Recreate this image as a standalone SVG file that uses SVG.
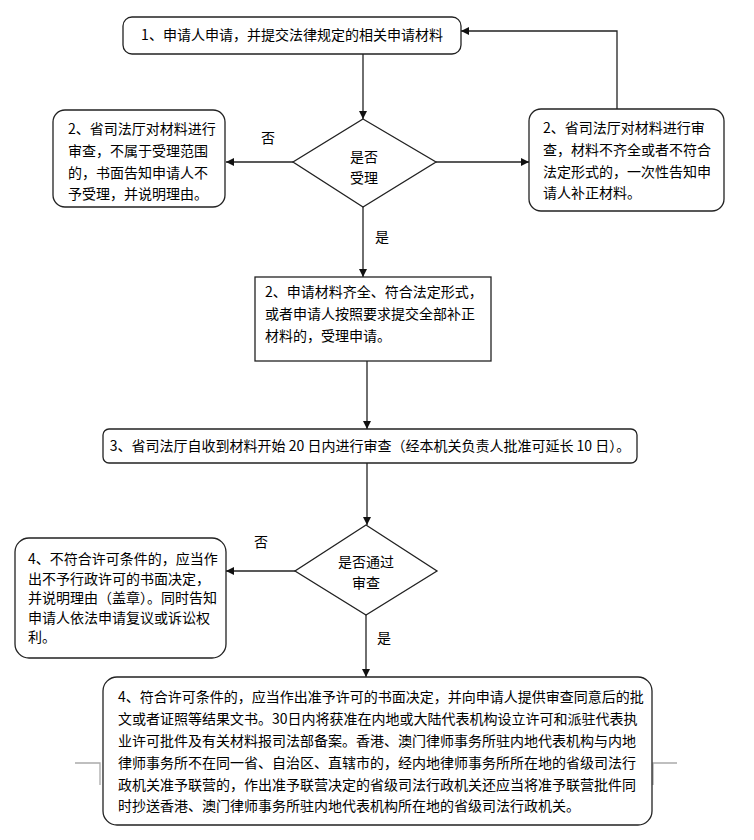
<svg xmlns="http://www.w3.org/2000/svg" width="754" height="840" viewBox="0 0 754 840">
<defs>
<style>
.box{fill:#fff;stroke:#222;stroke-width:1.3}
.t{font-family:"Noto Sans CJK SC","Noto Sans",sans-serif;font-size:14px;fill:#000}
.c{text-anchor:middle}
.ln{fill:none;stroke:#222;stroke-width:1.3}
.gr{fill:none;stroke:#aaa;stroke-width:1.3}
</style>
<marker id="ah" viewBox="0 0 10 10" refX="10" refY="5" markerWidth="8" markerHeight="8" markerUnits="userSpaceOnUse" orient="auto">
<path d="M0,0 L10,5 L0,10 z" fill="#111"/>
</marker>
</defs>
<rect width="754" height="840" fill="#fff"/>
<g id="connectors">
<path class="ln" d="M363,54 V119" marker-end="url(#ah)"/>
<path class="ln" d="M293,162 H226" marker-end="url(#ah)"/>
<path class="ln" d="M436,162 H529" marker-end="url(#ah)"/>
<path class="ln" d="M617,109 V31 H461" marker-end="url(#ah)"/>
<path class="ln" d="M363,207 V277" marker-end="url(#ah)"/>
<path class="ln" d="M367,361 V429" marker-end="url(#ah)"/>
<path class="ln" d="M367,463 V525" marker-end="url(#ah)"/>
<path class="ln" d="M295,571 H226" marker-end="url(#ah)"/>
<path class="ln" d="M366,615 V677" marker-end="url(#ah)"/>
<text class="t" x="261" y="143" font-size="16">否</text>
<text class="t" x="375" y="242" font-size="16">是</text>
<text class="t" x="254" y="547" font-size="16">否</text>
<text class="t" x="377" y="643" font-size="16">是</text>
</g>
<g id="n1">
<rect class="box" x="123" y="17" width="338" height="37" rx="9"/>
<text class="t c" x="292" y="40">1、申请人申请，并提交法律规定的相关申请材料</text>
</g>
<g id="d1">
<polygon class="box" points="363,119 436,162 363,207 293,162"/>
<text class="t c" x="364" y="162">是否</text>
<text class="t c" x="364" y="183">受理</text>
</g>
<g id="n2l">
<rect class="box" x="53" y="110" width="172" height="97" rx="12"/>
<text class="t" x="68" y="134">2、省司法厅对材料进行</text>
<text class="t" x="68" y="156">审查，不属于受理范围</text>
<text class="t" x="68" y="178">的，书面告知申请人不</text>
<text class="t" x="68" y="199">予受理，并说明理由。</text>
</g>
<g id="n2r">
<rect class="box" x="529" y="109" width="195" height="102" rx="12"/>
<text class="t" x="543" y="133">2、省司法厅对材料进行审</text>
<text class="t" x="543" y="155">查，材料不齐全或者不符合</text>
<text class="t" x="543" y="177">法定形式的，一次性告知申</text>
<text class="t" x="543" y="198">请人补正材料。</text>
</g>
<g id="n2">
<rect class="box" x="255" y="277" width="236" height="84"/>
<text class="t" x="265" y="297">2、申请材料齐全、符合法定形式，</text>
<text class="t" x="265" y="319">或者申请人按照要求提交全部补正</text>
<text class="t" x="265" y="341">材料的，受理申请。</text>
</g>
<g id="n3">
<rect class="box" x="103" y="429" width="534" height="34" rx="6"/>
<text class="t c" x="370" y="451">3、省司法厅自收到材料开始 20 日内进行审查（经本机关负责人批准可延长 10 日）。</text>
</g>
<g id="d2">
<polygon class="box" points="366,525 437,571 366,615 295,571"/>
<text class="t c" x="366" y="567">是否通过</text>
<text class="t c" x="366" y="588">审查</text>
</g>
<g id="n4l">
<rect class="box" x="15" y="538" width="211" height="120" rx="14"/>
<text class="t" x="28" y="564">4、不符合许可条件的，应当作</text>
<text class="t" x="28" y="584">出不予行政许可的书面决定，</text>
<text class="t" x="28" y="603">并说明理由（盖章）。同时告知</text>
<text class="t" x="28" y="623">申请人依法申请复议或诉讼权</text>
<text class="t" x="28" y="642">利。</text>
</g>
<g id="n4">
<path class="gr" d="M75,763 H100 V785 M677,763 H653 V785"/>
<rect class="box" x="103" y="677" width="549" height="148" rx="14"/>
<text class="t" x="118" y="702">4、符合许可条件的，应当作出准予许可的书面决定，并向申请人提供审查同意后的批</text>
<text class="t" x="118" y="724">文或者证照等结果文书。30日内将获准在内地或大陆代表机构设立许可和派驻代表执</text>
<text class="t" x="118" y="746">业许可批件及有关材料报司法部备案。香港、澳门律师事务所驻内地代表机构与内地</text>
<text class="t" x="118" y="768">律师事务所不在同一省、自治区、直辖市的，经内地律师事务所所在地的省级司法行</text>
<text class="t" x="118" y="790">政机关准予联营的，作出准予联营决定的省级司法行政机关还应当将准予联营批件同</text>
<text class="t" x="118" y="811">时抄送香港、澳门律师事务所驻内地代表机构所在地的省级司法行政机关。</text>
</g>
</svg>
